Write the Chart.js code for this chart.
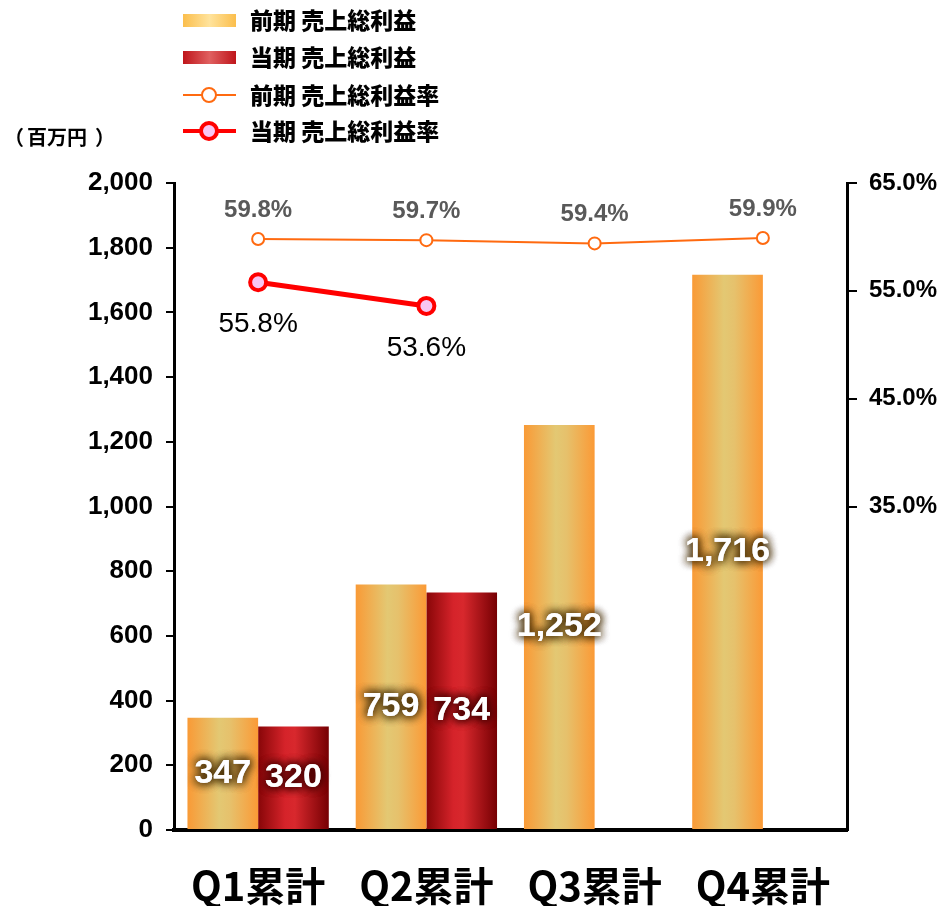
<!DOCTYPE html>
<html>
<head>
<meta charset="utf-8">
<script src="https://cdn.jsdelivr.net/npm/chart.js@4"></script>
<style>
  html, body { margin: 0; padding: 0; background: #fff; }
  #wrap { position: relative; width: 947px; height: 906px; }
</style>
</head>
<body>
<div id="wrap"><canvas id="chart" width="947" height="906"></canvas></div>
<script>
// chart values
var categories = ["Q1累計", "Q2累計", "Q3累計", "Q4累計"];
var profitPrev = [347, 759, 1252, 1716];
var profitCurr = [320, 734, null, null];
var ratePrev = [59.8, 59.7, 59.4, 59.9];
var rateCurr = [55.8, 53.6, null, null];
var seriesNames = ["前期 売上総利益", "当期 売上総利益", "前期 売上総利益率", "当期 売上総利益率"];

var JP = '"Noto Sans CJK JP", sans-serif';
var NUM = '"Liberation Sans", Arial, sans-serif';
var CAT_PCT = 0.84;

// horizontal gradient for one bar, computed from the x scale
function barGradient(ctx, chart, index, side, stops) {
  var x = chart.scales.x;
  var center = x.getPixelForValue(index);
  var w = (x.width / categories.length) * CAT_PCT / 2;
  var left = side === 0 ? center - w : center;
  var g = ctx.createLinearGradient(left, 0, left + w, 0);
  stops.forEach(function (s) { g.addColorStop(s[0], s[1]); });
  return g;
}

var prevStops = [[0, "#F99A36"], [0.45, "#E3C873"], [0.6, "#E6C16C"], [1, "#FB9A36"]];
var currStops = [[0, "#880608"], [0.38, "#D5232A"], [0.52, "#D8282D"], [1, "#760003"]];

var labelsPlugin = {
  id: "labels",
  afterDatasetsDraw: function (chart) {
    var ctx = chart.ctx;
    ctx.save();
    // bar value labels, white with a dark glow
    [0, 1].forEach(function (di) {
      var meta = chart.getDatasetMeta(di);
      var values = chart.data.datasets[di].data;
      meta.data.forEach(function (bar, i) {
        if (values[i] == null) return;
        var y = (bar.y + bar.base) / 2;
        var txt = values[i].toLocaleString("en-US");
        ctx.font = "bold 34px " + NUM;
        ctx.textAlign = "center";
        ctx.textBaseline = "middle";
        ctx.shadowColor = di === 0 ? "rgba(70,45,5,0.95)" : "rgba(70,0,0,1)";
        ctx.shadowBlur = 10;
        ctx.fillStyle = "#fff";
        for (var k = 0; k < 3; k++) ctx.fillText(txt, bar.x, y);
      });
    });
    ctx.shadowBlur = 0;
    ctx.shadowColor = "transparent";
    // rate labels
    var mp = chart.getDatasetMeta(2);
    mp.data.forEach(function (pt, i) {
      ctx.font = "bold 24px " + NUM;
      ctx.fillStyle = "#595959";
      ctx.textAlign = "center";
      ctx.textBaseline = "middle";
      ctx.fillText(ratePrev[i].toFixed(1) + "%", pt.x, pt.y - 29);
    });
    var mc = chart.getDatasetMeta(3);
    mc.data.forEach(function (pt, i) {
      if (rateCurr[i] == null) return;
      ctx.font = "28px " + NUM;
      ctx.fillStyle = "#000";
      ctx.textAlign = "center";
      ctx.textBaseline = "middle";
      ctx.fillText(rateCurr[i].toFixed(1) + "%", pt.x, pt.y + 42);
    });
    ctx.restore();
  },
  afterDraw: function (chart) {
    var ctx = chart.ctx;
    ctx.save();
    // unit label, parens placed apart like the original
    ctx.font = "bold 20px " + JP;
    ctx.fillStyle = "#000";
    ctx.textBaseline = "middle";
    ctx.textAlign = "center";
    ctx.fillText("（", 14, 137);
    ctx.fillText("）", 105, 137);
    ctx.textAlign = "left";
    ctx.fillText("百万円", 27, 137);
    // legend
    var rows = [20, 57, 95, 131];
    var sx = 183, sw = 53;
    rows.forEach(function (y, i) {
      if (i < 2) {
        var g = ctx.createLinearGradient(sx, 0, sx + sw, 0);
        if (i === 0) {
          g.addColorStop(0, "#FBBE4C"); g.addColorStop(0.5, "#FFE39C"); g.addColorStop(1, "#FBBE4C");
        } else {
          g.addColorStop(0, "#BF151B"); g.addColorStop(0.5, "#E06060"); g.addColorStop(1, "#BF151B");
        }
        ctx.fillStyle = g;
        ctx.fillRect(sx, y - 6, sw, 13);
      } else {
        var ds = chart.data.datasets[i];
        ctx.strokeStyle = ds.borderColor;
        ctx.lineWidth = i === 2 ? 2 : 4;
        ctx.beginPath();
        ctx.moveTo(sx, y);
        ctx.lineTo(sx + sw, y);
        ctx.stroke();
        ctx.beginPath();
        ctx.arc(sx + 26, y, i === 2 ? 7 : 8, 0, Math.PI * 2);
        ctx.fillStyle = ds.pointBackgroundColor;
        ctx.fill();
        ctx.lineWidth = ds.pointBorderWidth;
        ctx.stroke();
      }
      ctx.font = "900 23px " + JP;
      ctx.fillStyle = "#000";
      ctx.textAlign = "left";
      ctx.textBaseline = "middle";
      ctx.fillText(seriesNames[i], 250, y);
    });
    ctx.restore();
  }
};

var ctx = document.getElementById("chart").getContext("2d");
var chart = new Chart(ctx, {
  data: {
    labels: categories,
    datasets: [
      {
        type: "bar",
        label: seriesNames[0],
        data: profitPrev,
        yAxisID: "y",
        order: 3,
        categoryPercentage: CAT_PCT,
        barPercentage: 1.0,
        backgroundColor: function (c) {
          if (!c.chart.chartArea) return "#F7A23B";
          return barGradient(c.chart.ctx, c.chart, c.dataIndex, 0, prevStops);
        }
      },
      {
        type: "bar",
        label: seriesNames[1],
        data: profitCurr,
        yAxisID: "y",
        order: 3,
        categoryPercentage: CAT_PCT,
        barPercentage: 1.0,
        backgroundColor: function (c) {
          if (!c.chart.chartArea) return "#C0161C";
          return barGradient(c.chart.ctx, c.chart, c.dataIndex, 1, currStops);
        }
      },
      {
        type: "line",
        label: seriesNames[2],
        data: ratePrev,
        yAxisID: "y2",
        order: 1,
        borderColor: "#FF6A10",
        borderWidth: 2,
        pointRadius: 6,
        pointBorderWidth: 2,
        pointBackgroundColor: "#fff",
        pointBorderColor: "#FF6A10",
        tension: 0
      },
      {
        type: "line",
        label: seriesNames[3],
        data: rateCurr,
        yAxisID: "y2",
        order: 0,
        borderColor: "#FF0000",
        borderWidth: 5,
        pointRadius: 8,
        pointBorderWidth: 4,
        pointBackgroundColor: "#F8C6F2",
        pointBorderColor: "#FF0000",
        tension: 0
      }
    ]
  },
  options: {
    responsive: false,
    animation: false,
    layout: { padding: { top: 183, left: 0, right: 0, bottom: 0 } },
    plugins: { legend: { display: false }, tooltip: { enabled: false } },
    scales: {
      x: {
        grid: { display: false },
        border: { display: true, color: "#000", width: 4 },
        ticks: { color: "#000", font: { family: JP, size: 40, weight: "bold" }, padding: 24 },
        afterFit: function (s) { s.height = 76; }
      },
      y: {
        position: "left",
        min: 0,
        max: 2000,
        ticks: {
          stepSize: 200,
          color: "#000",
          padding: 13,
          font: { family: NUM, size: 26, weight: "bold" },
          callback: function (v) { return v.toLocaleString("en-US"); }
        },
        grid: { drawOnChartArea: false, drawTicks: true, tickLength: 8, color: "#000", lineWidth: 2 },
        border: { display: true, color: "#000", width: 3 },
        afterFit: function (s) { s.width = 174; }
      },
      y2: {
        position: "right",
        min: 5,
        max: 65,
        ticks: {
          stepSize: 10,
          color: "#000",
          padding: 12,
          font: { family: NUM, size: 24, weight: "bold" },
          callback: function (v) { return v >= 35 ? v.toFixed(1) + "%" : ""; }
        },
        grid: {
          drawOnChartArea: false,
          drawTicks: true,
          tickLength: 10,
          lineWidth: 2,
          color: function (c) { return c.tick && c.tick.value >= 35 ? "#000" : "rgba(0,0,0,0)"; }
        },
        border: { display: true, color: "#000", width: 3 },
        afterFit: function (s) { s.width = 100; }
      }
    }
  },
  plugins: [labelsPlugin]
});
</script>
</body>
</html>
